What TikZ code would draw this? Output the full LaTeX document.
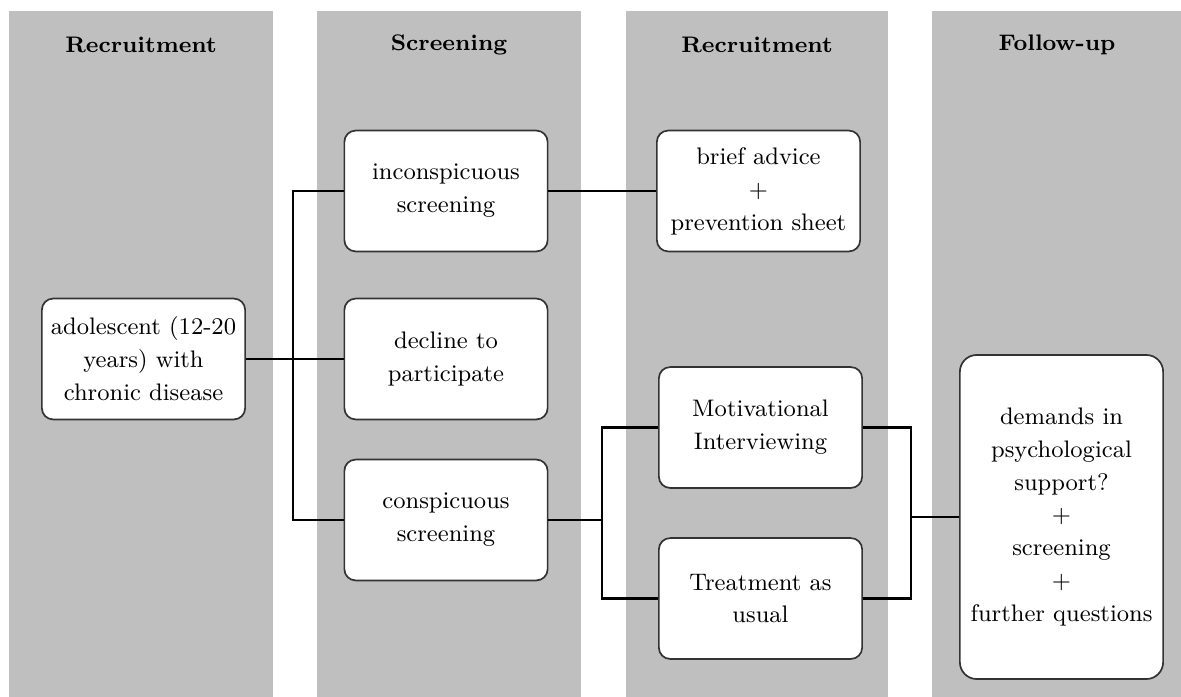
\documentclass[tikz,border=0pt]{standalone}
\usepackage{tikz}
\usetikzlibrary{positioning, calc}
\definecolor{PhaseGrey}{HTML}{BFBFBF}
\definecolor{BoxEdge}{HTML}{333333}

\begin{document}
\begin{tikzpicture}[x=0.0125cm, y=-0.0125cm,
    phasebox/.style={draw=BoxEdge, line width=0.6pt, fill=white, rounded corners=4pt,
      minimum width=2.54cm, minimum height=1.51cm, align=center, inner sep=1pt,
      font=\fontsize{8.5}{11.7}\selectfont},
    phasehead/.style={font=\fontsize{8}{10}\selectfont\bfseries},
    link/.style={draw=black, line width=1pt}]
      \useasboundingbox (0,0) rectangle (1181,697);
      %% Phase columns
      \fill[PhaseGrey] (9,11) rectangle (273,697);
      \fill[PhaseGrey] (317,11) rectangle (581,697);
      \fill[PhaseGrey] (626,11) rectangle (888,697);
      \fill[PhaseGrey] (932,11) rectangle (1181,697);
      %% Headers
      \node[phasehead] (hRecA) at (141,45) {Recruitment};
      \node[phasehead] (hScr) at (449,45) {Screening};
      \node[phasehead] (hRecB) at (757,45) {Recruitment};
      \node[phasehead] (hFol) at (1057,45) {Follow-up};
      %% Boxes
      \node[phasebox] (adol) at (143.5,359) {adolescent (12-20\\ years) with\\ chronic disease};
      \node[phasebox] (incon) at (446,191) {inconspicuous\\ screening};
      \node[phasebox] (decl) at (446,359) {decline to\\ participate};
      \node[phasebox] (consp) at (446,520) {conspicuous\\ screening};
      \node[phasebox] (brief) at (758.5,191) {brief advice\\ +\\ prevention sheet};
      \node[phasebox] (motiv) at (760.5,427.5) {Motivational\\ Interviewing};
      \node[phasebox] (treat) at (760.5,598.5) {Treatment as\\ usual};
      \node[phasebox, minimum height=4.05cm, rounded corners=6pt] (follow) at (1061.5,517)
        {demands in\\ psychological\\ support?\\ +\\ screening\\ +\\ further questions};
      %% Junctions
      \coordinate (jL) at (293,359);
      \coordinate (jM) at (602,520);
      \coordinate (jR) at (911,517);
      %% Connectors
      \draw[link] (adol.east) -- (jL);
      \draw[link] (incon.west) -| (jL) |- (consp.west);
      \draw[link] (decl.west) -- (jL);
      \draw[link] (incon.east) -- (brief.west);
      \draw[link] (consp.east) -- (jM);
      \draw[link] (motiv.west) -| (jM) |- (treat.west);
      \draw[link] (motiv.east) -| (jR) |- (treat.east);
      \draw[link] (jR) -- (follow.west);
\end{tikzpicture}
\end{document}
